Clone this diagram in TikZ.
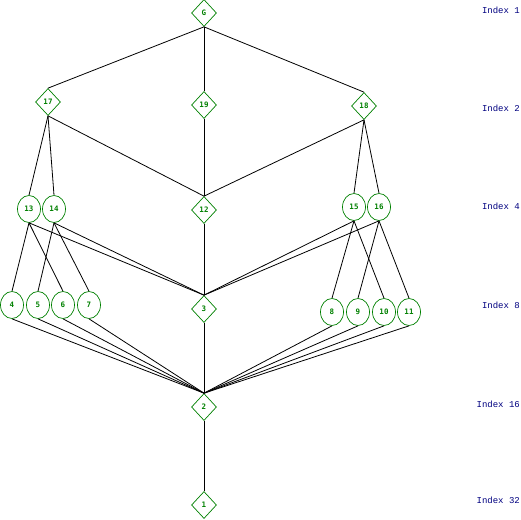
\documentclass[tikz,border=0pt]{standalone}
\usepackage{fontspec}
\newfontfamily\idxfont{Liberation Mono}
\newfontfamily\numfont{DejaVu Sans Mono}
\usetikzlibrary{shapes.geometric}
\definecolor{nodegreen}{RGB}{0,128,0}
\definecolor{idxblue}{RGB}{0,0,128}
\tikzset{
  dia/.style={diamond, draw=nodegreen, text=nodegreen, line width=0.7pt, inner sep=0pt, minimum width=25pt, minimum height=27pt, font=\numfont\bfseries\fontsize{7.5}{7.5}\selectfont},
  ell/.style={ellipse, draw=nodegreen, text=nodegreen, line width=0.7pt, inner sep=0pt, minimum width=23pt, minimum height=27pt, font=\numfont\bfseries\fontsize{7.5}{7.5}\selectfont},
  idx/.style={anchor=east, text=idxblue, inner sep=0pt, font=\idxfont\fontsize{9}{9}\selectfont},
  edge/.style={draw=black, line width=0.8pt}
}
\begin{document}
\begin{tikzpicture}[x=1pt,y=-1pt]
\useasboundingbox (0,0) rectangle (521,519);
% diamonds
\node[dia] (G) at (204,13) {G};
\node[dia] (n17) at (48,102) {17};
\node[dia] (n19) at (204,105) {19};
\node[dia] (n18) at (364,106) {18};
\node[dia] (n12) at (204,210) {12};
\node[dia] (n3) at (204,309) {3};
\node[dia] (n2) at (204,407) {2};
\node[dia] (n1) at (204,505) {1};
% ellipses
\node[ell] (n13) at (29,209) {13};
\node[ell] (n14) at (54,209) {14};
\node[ell] (n15) at (354,207) {15};
\node[ell] (n16) at (379,207) {16};
\node[ell] (n4) at (12,305) {4};
\node[ell] (n5) at (38,305) {5};
\node[ell] (n6) at (63,305) {6};
\node[ell] (n7) at (89,305) {7};
\node[ell] (n8) at (332,312) {8};
\node[ell] (n9) at (358,312) {9};
\node[ell] (n10) at (384,312) {10};
\node[ell] (n11) at (409,312) {11};
% index labels
\node[idx] (i1) at (520,10) {Index 1};
\node[idx] (i2) at (520,108) {Index 2};
\node[idx] (i4) at (520,206) {Index 4};
\node[idx] (i8) at (520,305) {Index 8};
\node[idx] (i16) at (520,404) {Index 16};
\node[idx] (i32) at (520,500) {Index 32};
% edges
\foreach \a/\b in {G/n17, G/n19, G/n18,
  n17/n13, n17/n14, n17/n12, n19/n12, n18/n15, n18/n16, n18/n12,
  n12/n3,
  n13/n4, n13/n6, n14/n5, n14/n7, n13/n3, n14/n3,
  n15/n8, n15/n10, n16/n9, n16/n11, n15/n3, n16/n3,
  n4/n2, n5/n2, n6/n2, n7/n2, n8/n2, n9/n2, n10/n2, n11/n2,
  n3/n2, n2/n1}
  \draw[edge] (\a.south) -- (\b.north);
\end{tikzpicture}
\end{document}
